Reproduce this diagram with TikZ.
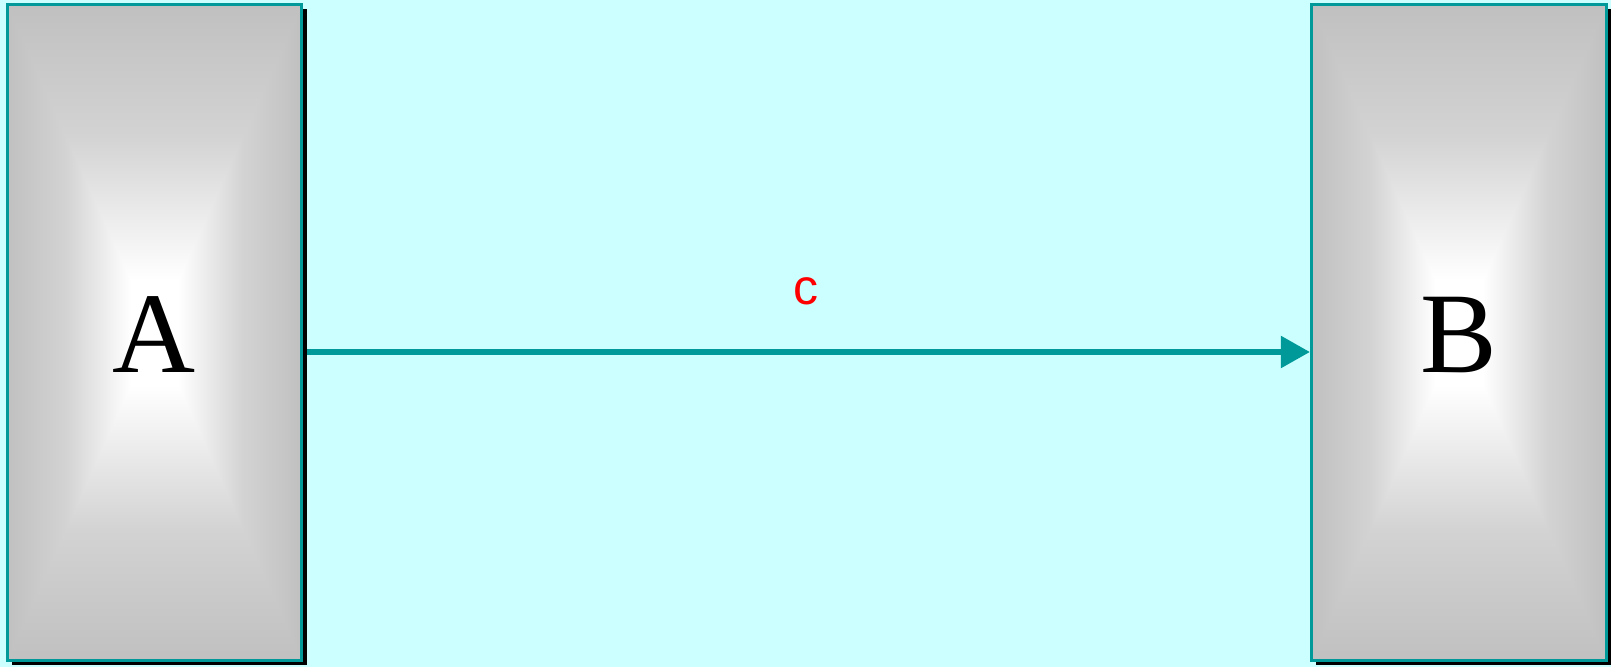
\documentclass[tikz,border=0pt]{standalone}
\usepackage{fontspec}
\setmainfont{Liberation Serif}
\newfontfamily\labelsans{Liberation Sans}
\usetikzlibrary{arrows.meta,shadows}
\definecolor{bgcyan}{HTML}{CCFFFF}
\definecolor{tealline}{HTML}{009999}
\definecolor{boxgray}{HTML}{C0C0C0}
\definecolor{labelred}{HTML}{FF0000}
% symmetric ramps: gray at both outer edges, white in the middle
\pgfdeclarehorizontalshading{hsym}{100bp}{color(0bp)=(boxgray); color(25bp)=(boxgray); color(35bp)=(boxgray!70!white); color(46bp)=(white); color(54bp)=(white); color(65bp)=(boxgray!70!white); color(75bp)=(boxgray); color(100bp)=(boxgray)}
\pgfdeclareverticalshading{vsym}{100bp}{color(0bp)=(boxgray); color(25bp)=(boxgray); color(35bp)=(boxgray!70!white); color(46bp)=(white); color(54bp)=(white); color(65bp)=(boxgray!70!white); color(75bp)=(boxgray); color(100bp)=(boxgray)}
\tikzset{
  blockbox/.style={
    draw=tealline, line width=3bp, fill=boxgray,
    minimum width=294.5bp, minimum height=656bp, inner sep=0pt,
    font=\fontsize{115bp}{115bp}\selectfont,
    drop shadow={shadow xshift=5bp, shadow yshift=-4.6bp, opacity=1, fill=black},
    path picture={
      \shade[shading=hsym] (path picture bounding box.north west) rectangle (path picture bounding box.south east);
      \begin{scope}
        \clip (path picture bounding box.north west) -- (path picture bounding box.center) -- (path picture bounding box.north east) -- cycle
              (path picture bounding box.south west) -- (path picture bounding box.center) -- (path picture bounding box.south east) -- cycle;
        \shade[shading=vsym] (path picture bounding box.north west) rectangle (path picture bounding box.south east);
      \end{scope}
      \node at ([yshift=-2.2bp]path picture bounding box.center) {\tikzboxtext};
    }
  },
  conn/.style={draw=tealline, line width=5.5bp, -{Triangle[length=29bp,width=31bp]}},
  connlabel/.style={text=labelred, font=\labelsans\fontsize{50bp}{50bp}\selectfont, inner sep=0pt}
}
\begin{document}
\begin{tikzpicture}[x=1bp,y=-1bp]
\fill[bgcyan] (0,0) rectangle (1611,667);
\useasboundingbox (0,0) rectangle (1611,667);
\def\tikzboxtext{A}
\node[blockbox] (A) at (154.3,332.7) {};
\def\tikzboxtext{B}
\node[blockbox, minimum width=295.2bp] (B) at (1459,332.7) {};
\draw[conn] ([xshift=4bp,yshift=-19.3bp]A.east) -- ([yshift=-19.3bp]B.west)
  node[connlabel, midway, xshift=-2.5bp, yshift=60.5bp] (c) {c};
\end{tikzpicture}
\end{document}
